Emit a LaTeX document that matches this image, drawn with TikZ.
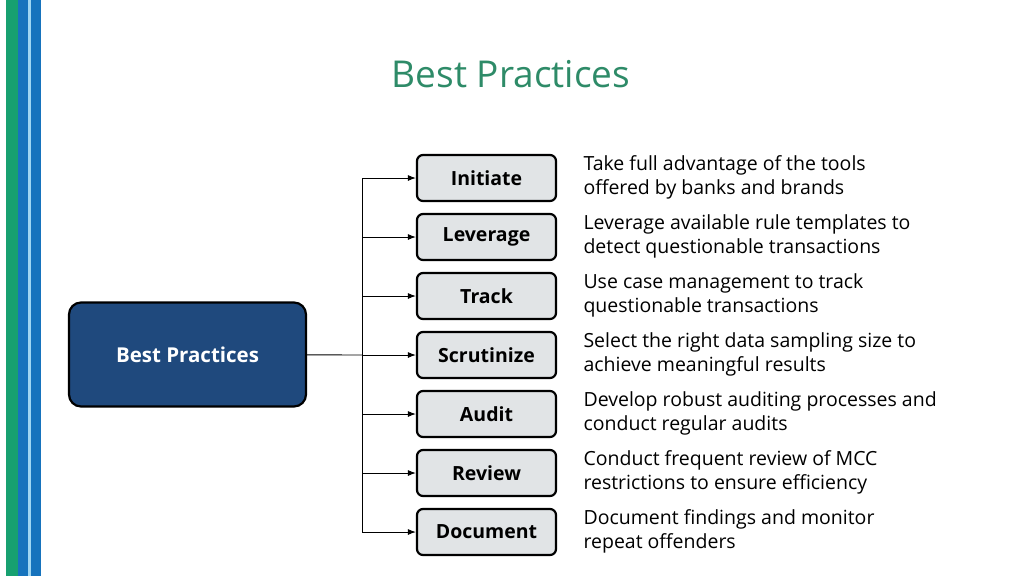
\documentclass[tikz,border=0pt]{standalone}
\usepackage{fontspec}
\setmainfont{Open Sans}
\usetikzlibrary{arrows.meta}
\definecolor{ttl}{HTML}{2E8B68}
\definecolor{mainb}{HTML}{1F497D}
\definecolor{boxf}{HTML}{E1E4E6}
\definecolor{sg}{HTML}{17A070}
\definecolor{sb}{HTML}{1673BD}
\definecolor{sl}{HTML}{9FD6F2}
\begin{document}
\begin{tikzpicture}[x=1pt,y=-1pt,
 sm/.style={draw=black,line width=2.2pt,fill=boxf,rounded corners=6pt,minimum width=139pt,minimum height=46pt,font=\fontsize{19.5}{23}\selectfont\bfseries},
 desc/.style={anchor=west,align=left,font=\fontsize{19.5}{24}\selectfont},
 con/.style={line width=0.9pt,-{Latex[length=8pt,width=6pt]}}]
\useasboundingbox (0,0) rectangle (1024,576);
\fill[white] (0,0) rectangle (1024,576);
\fill[sg] (6,0) rectangle (18,576);
\fill[sb] (18,0) rectangle (28,576);
\fill[sl] (28,0) rectangle (31,576);
\fill[sb] (31,0) rectangle (41,576);
\node[text=ttl,font=\fontsize{37}{44}\selectfont] (title) at (511,74) {Best Practices};
\node[draw=black,line width=2.2pt,fill=mainb,rounded corners=12pt,minimum width=237pt,minimum height=104pt,text=white,font=\fontsize{20.5}{24}\selectfont\bfseries] (bp) at (187.5,354.5) {Best Practices};
\coordinate (j) at (362,355);
\foreach \n/\t/\y/\a/\b in {
 i/Initiate/178/Take full advantage of the tools/offered by banks and brands,
 l/Leverage/237/Leverage available rule templates to/detect questionable transactions,
 t/Track/296/Use case management to track/questionable transactions,
 s/Scrutinize/355/Select the right data sampling size to/achieve meaningful results,
 a/Audit/414/Develop robust auditing processes and/conduct regular audits,
 r/Review/473/Conduct frequent review of MCC/restrictions to ensure efficiency,
 d/Document/532/Document findings and monitor/repeat offenders}{
 \node[sm] (\n) at (486.5,\y) {\t};
 \node[desc] (\n d) at (580,\y-1) {\a\\\b};
 \coordinate (\n c) at (362,\y);
 \draw[con] (\n c) -- (\n);
}
\draw[line width=0.9pt] (ic) -- (dc);
\draw[line width=0.9pt] (bp) -- (j);
\end{tikzpicture}
\end{document}
